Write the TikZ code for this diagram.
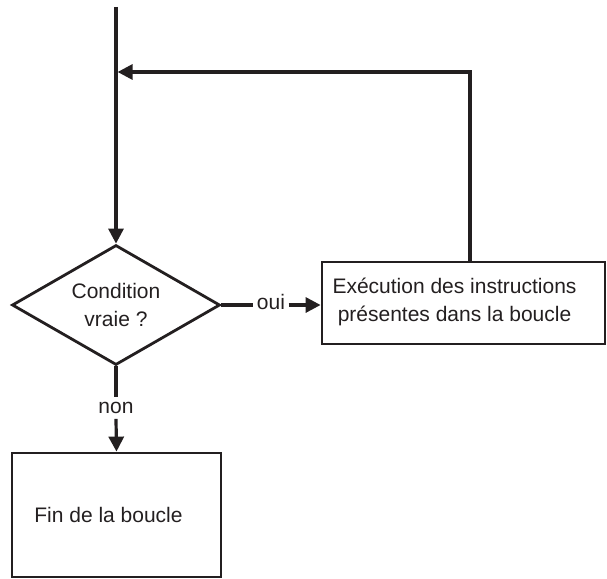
\documentclass[tikz,border=0pt]{standalone}
\usepackage{fontspec}
\setmainfont{Liberation Sans}
\usetikzlibrary{shapes.geometric,arrows.meta}
\definecolor{ink}{HTML}{231F20}
\begin{document}
\begin{tikzpicture}[x=1pt,y=-1pt,
  every node/.style={font=\fontsize{21}{28}\selectfont, text=ink},
  boxnode/.style={draw=ink, line width=2.8pt, rectangle, inner sep=0pt},
  decision/.style={draw=ink, line width=2.8pt, diamond, aspect=1.73, inner sep=0pt, minimum width=208pt, minimum height=120pt, align=center},
  link/.style={draw=ink, line width=3.2pt},
  arr/.style={link, -{Triangle[length=15pt,width=15pt]}},
  lbl/.style={inner xsep=3.5pt, inner ysep=5pt}
]
\useasboundingbox (0,0) rectangle (607,578);
\coordinate (start) at (116,7);
\coordinate (join) at (116,72);
\node[decision] (cond) at (116,305) {Condition\\vraie ?};
\node[boxnode, minimum width=283pt, minimum height=82pt] (exec) at (463.5,303) {};
\node[align=center] (exectext) at ([xshift=-9pt,yshift=1pt]exec.center) {Exécution des instructions\\présentes dans la boucle};
\node[boxnode, minimum width=209pt, minimum height=124pt] (fin) at (116.5,515) {};
\node (fintext) at ([xshift=-8pt]fin.center) {Fin de la boucle};
\node[lbl] (oui) at (271,302) {oui};
\node[lbl] (non) at (116,408) {non};
\coordinate (ret) at (470,72);
\draw[link] (start) -- (join);
\draw[arr] (join) -- (cond.north);
\draw[arr] (exec.north -| ret) -- (ret) -- ([xshift=1.6pt]join);
\draw[link] (cond.east) -- (oui.west |- cond.east);
\draw[arr] (oui.east |- cond.east) -- (exec.west |- cond.east);
\draw[link] (cond.south) -- (non.north);
\draw[arr] (non.south) -- (fin.north);
\end{tikzpicture}
\end{document}
